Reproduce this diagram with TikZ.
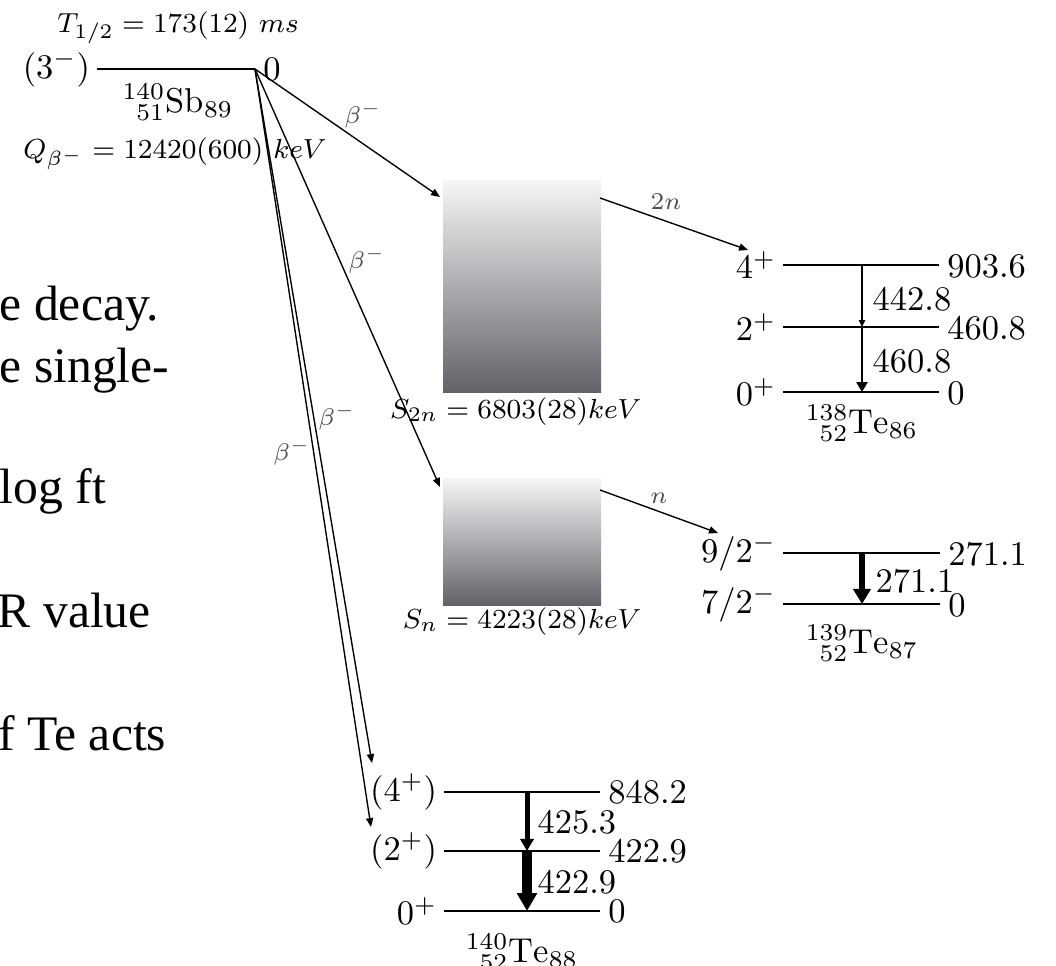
\documentclass[tikz,border=0pt]{standalone}
\usepackage{fontspec}
\newfontfamily\bgfont{Liberation Serif}
\usetikzlibrary{arrows.meta,fit}
\definecolor{boxtop}{RGB}{246,246,248}
\definecolor{boxbot}{RGB}{98,99,104}
\begin{document}
\begin{tikzpicture}[x=0.29pt,y=-0.29pt,
  lvl/.style={line width=0.4pt},
  betaarrow/.style={line width=0.4pt,-{Triangle[length=2.6pt,width=2.1pt]}},
  gA/.style={line width=0.4pt,-{Triangle[length=2pt,width=1.8pt]}},
  gB/.style={line width=0.8pt,-{Triangle[length=2.9pt,width=3.2pt]}},
  gC/.style={line width=1.45pt,-{Triangle[length=3.5pt,width=3.8pt]}},
  gD/.style={line width=2pt,-{Triangle[length=4.4pt,width=5pt]}},
  gE/.style={line width=2.9pt,-{Triangle[length=5.2pt,width=5.6pt]}},
  spinlab/.style={anchor=east,inner sep=1.8pt},
  elab/.style={anchor=west,inner sep=2.2pt},
  glab/.style={anchor=west,inner sep=0pt},
  tlab/.style={inner sep=0pt,font=\scriptsize,text=black!70},
  info/.style={inner sep=0pt,font=\fontsize{8.2}{10}\selectfont},
  bgtext/.style={anchor=base west,inner sep=0pt,font=\bgfont\fontsize{14.4}{17}\selectfont},
  ebox/.style={inner sep=0pt,draw=none,top color=boxtop,bottom color=boxbot}]
\useasboundingbox (0,0) rectangle (1056,965);

% background page text (clipped)
\node[bgtext] (bg1) at (-1,320) {e decay.};
\node[bgtext] (bg2) at (-1,382) {e single-};
\node[bgtext] (bg3) at (-1,503) {log ft};
\node[bgtext] (bg4) at (-3,627) {R value};
\node[bgtext] (bg5) at (-2,750) {f Te acts};

% parent 140Sb
\coordinate (sbL) at (97,69);
\coordinate (sb0) at (255,69);
\draw[lvl] (sbL) -- (sb0);
\node[spinlab] (sbJ) at (sbL) {$(3^-)$};
\node[elab] (sbE) at (sb0) {$0$};
\node[anchor=base,inner sep=0pt] (sbN) at (178,112) {${}^{140}_{\phantom{1}51}\mathrm{Sb}_{89}$};
\node[info,anchor=base] (thalf) at (178,32) {$T_{1/2} = 173(12)\ ms$};
\node[info,anchor=base] (qbeta) at (175,158) {$Q_{\beta^-} = 12420(600)\ keV$};

% neutron-unbound regions
\node[ebox,fit={(443,180)(601,392)}] (box2n) {};
\node[ebox,fit={(443,478)(601,605)}] (box1n) {};
\node[info,anchor=base east] (s2n) at (642,418) {$S_{2n} = 6803(28)keV$};
\node[info,anchor=base east] (s1n) at (642,628) {$S_{n} = 4223(28)keV$};

% 138Te
\coordinate (a4L) at (783,265); \coordinate (a4R) at (939,265);
\coordinate (a2L) at (783,327); \coordinate (a2R) at (939,327);
\coordinate (a0L) at (783,392); \coordinate (a0R) at (939,392);
\draw[lvl] (a4L) -- (a4R);
\draw[lvl] (a2L) -- (a2R);
\draw[lvl] (a0L) -- (a0R);
\node[spinlab] (a4J) at (a4L) {$4^+$};
\node[spinlab] (a2J) at (a2L) {$2^+$};
\node[spinlab] (a0J) at (a0L) {$0^+$};
\node[elab] (a4E) at ([yshift=-0.5pt]a4R) {$903.6$};
\node[elab] (a2E) at ([yshift=-0.5pt]a2R) {$460.8$};
\node[elab] (a0E) at ([yshift=-0.5pt]a0R) {$0$};
\coordinate (a4g) at (862,265); \coordinate (a2g) at (862,327); \coordinate (a0g) at (862,392);
\draw[gA] (a4g) -- (a2g);
\draw[gB] (a2g) -- (a0g);
\node[glab] (a42) at (872,299) {$442.8$};
\node[glab] (a20) at (872,361) {$460.8$};
\node[anchor=base,inner sep=0pt] (aN) at (862,433) {${}^{138}_{\phantom{1}52}\mathrm{Te}_{86}$};

% 139Te
\coordinate (b9L) at (783,553); \coordinate (b9R) at (940,553);
\coordinate (b7L) at (783,604); \coordinate (b7R) at (940,604);
\draw[lvl] (b9L) -- (b9R);
\draw[lvl] (b7L) -- (b7R);
\node[spinlab] (b9J) at (b9L) {$9/2^-$};
\node[spinlab] (b7J) at (b7L) {$7/2^-$};
\node[elab] (b9E) at ([yshift=-0.3pt]b9R) {$271.1$};
\node[elab] (b7E) at ([yshift=-0.3pt]b7R) {$0$};
\coordinate (b9g) at (862,553); \coordinate (b7g) at (862,604);
\draw[gD] (b9g) -- (b7g);
\node[glab] (b97) at (875,581) {$271.1$};
\node[anchor=base,inner sep=0pt] (bN) at (862,653) {${}^{139}_{\phantom{1}52}\mathrm{Te}_{87}$};

% 140Te
\coordinate (c4L) at (444,792); \coordinate (c4R) at (600,792);
\coordinate (c2L) at (444,851); \coordinate (c2R) at (600,851);
\coordinate (c0L) at (444,911); \coordinate (c0R) at (600,911);
\draw[lvl] (c4L) -- (c4R);
\draw[lvl] (c2L) -- (c2R);
\draw[lvl] (c0L) -- (c0R);
\node[spinlab] (c4J) at (c4L) {$(4^+)$};
\node[spinlab] (c2J) at (c2L) {$(2^+)$};
\node[spinlab] (c0J) at (c0L) {$0^+$};
\node[elab] (c4E) at (c4R) {$848.2$};
\node[elab] (c2E) at (c2R) {$422.9$};
\node[elab] (c0E) at (c0R) {$0$};
\coordinate (c4g) at (527,792); \coordinate (c2g) at (527,851); \coordinate (c0g) at (527,911);
\draw[gC] (c4g) -- (c2g);
\draw[gE] (c2g) -- (c0g);
\node[glab] (c42) at (537,822) {$425.3$};
\node[glab] (c20) at (537,882) {$422.9$};
\node[anchor=base,inner sep=0pt] (cN) at (522,962) {${}^{140}_{\phantom{1}52}\mathrm{Te}_{88}$};

% beta feeding and neutron emission
\coordinate (in2n) at (440,197);
\coordinate (in1n) at (440,487);
\coordinate (out2n) at (600,198);
\coordinate (out1n) at (600,490);
\coordinate (to138) at (748,250);
\coordinate (to139) at (718,533);
\coordinate (to4) at (372,763);
\coordinate (to2) at (371,827);
\draw[betaarrow] (sb0) -- (in2n);
\draw[betaarrow] (sb0) -- (in1n);
\draw[betaarrow] (sb0) -- (to4);
\draw[betaarrow] (sb0) -- (to2);
\draw[betaarrow] (out2n) -- (to138);
\draw[betaarrow] (out1n) -- (to139);
\node[tlab] (lb1) at (363,115) {$\beta^-$};
\node[tlab] (lb2) at (367,260) {$\beta^-$};
\node[tlab] (lb3) at (337,417) {$\beta^-$};
\node[tlab] (lb4) at (292,452) {$\beta^-$};
\node[tlab] (l2n) at (666,202) {$2n$};
\node[tlab] (l1n) at (659,498) {$n$};
\end{tikzpicture}
\end{document}
